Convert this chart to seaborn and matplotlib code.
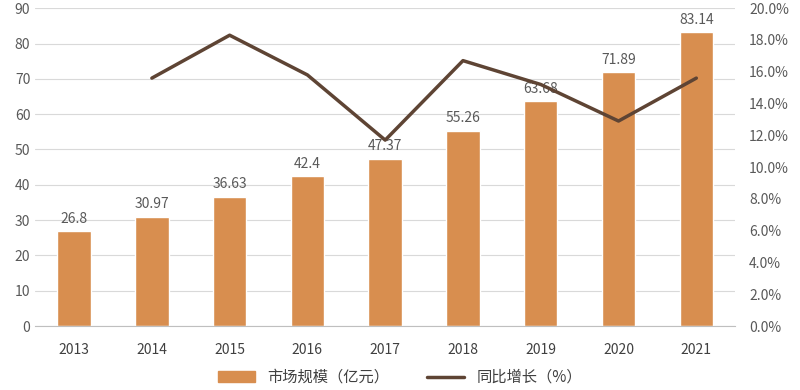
import matplotlib.pyplot as plt
import seaborn as sns
import pandas as pd
import numpy as np
from matplotlib.lines import Line2D
from matplotlib.patches import Patch

years = ['2013', '2014', '2015', '2016', '2017', '2018', '2019', '2020', '2021']
market_size = [26.8, 30.97, 36.63, 42.4, 47.37, 55.26, 63.68, 71.89, 83.14]
growth_pct = [np.nan, 15.6, 18.3, 15.8, 11.7, 16.7, 15.2, 12.9, 15.6]

bar_color = '#D88E4F'
line_color = '#5E4434'
text_color = '#595959'

sns.set_style('white')
plt.rcParams['font.family'] = ['Noto Sans CJK SC', 'DejaVu Sans']

df = pd.DataFrame({'year': years, 'size': market_size, 'growth': growth_pct})
df['pos'] = np.arange(len(df))

fig = plt.figure(figsize=(8, 3.9), dpi=100)
ax = fig.add_axes([0.044, 0.164, 0.875, 0.815])

sns.barplot(data=df, x='year', y='size', color=bar_color, width=0.43,
            saturation=1, ax=ax, zorder=2)
ax.bar_label(ax.containers[0], labels=[f'{v:g}' for v in market_size],
             padding=4, fontsize=10, color=text_color)

ax.set_ylim(0, 90)
ax.set_yticks(range(0, 91, 10))
ax.grid(axis='y', color='#D9D9D9', linewidth=0.8, zorder=0)
ax.set_axisbelow(True)
ax.set_xlabel('')
ax.set_ylabel('')
ax.tick_params(axis='y', length=0, labelsize=10, colors=text_color)
ax.tick_params(axis='x', length=0, labelsize=10, colors='#404040', pad=12)
for s in ['top', 'right', 'left']:
    ax.spines[s].set_visible(False)
ax.spines['bottom'].set_color('#BFBFBF')

ax2 = ax.twinx()
sns.lineplot(data=df, x='pos', y='growth', color=line_color, linewidth=2.5, ax=ax2)
ax2.set_ylim(0, 20)
ax2.set_yticks(range(0, 21, 2))
ax2.set_yticklabels([f'{v:.1f}%' for v in range(0, 21, 2)])
ax2.set_ylabel('')
ax2.set_xlabel('')
ax2.tick_params(axis='y', length=0, labelsize=10, colors=text_color, pad=10)
for s in ax2.spines.values():
    s.set_visible(False)
ax.set_xlim(-0.5, len(years) - 0.5)

handles = [Patch(color=bar_color), Line2D([0], [0], color=line_color, linewidth=2.5)]
fig.legend(handles, ['市场规模（亿元）', '同比增长（%）'], loc='lower center',
           bbox_to_anchor=(0.5, -0.025), ncol=2, frameon=False, fontsize=11,
           handlelength=2.4, columnspacing=2.5, labelcolor='#404040')

fig.savefig('out.png', dpi=100)
plt.close()
